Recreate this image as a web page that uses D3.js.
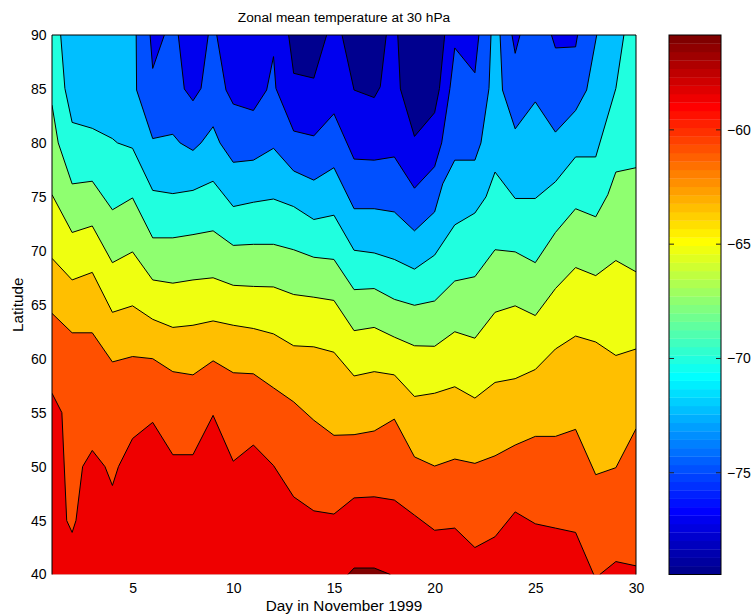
<!DOCTYPE html>
<html>
<head>
<meta charset="utf-8">
<script src="https://cdn.jsdelivr.net/npm/d3@7"></script>
<style>
body { margin: 0; background: #fff; }
svg { display: block; font-family: "Liberation Sans", Arial, sans-serif; }
</style>
</head>
<body>
<div id="chart"></div>
<script>
var dayTicks = [5, 10, 15, 20, 25, 30];
var latTicks = [40, 45, 50, 55, 60, 65, 70, 75, 80, 85, 90];
var cbTicks = [-75, -70, -65, -60];
var tempRange = [-79.45, -55.85];
var levels = [-77.09, -74.85, -72.25, -70.06, -67.46, -65.29, -63.4, -60.81, -58.61, -56.09];

// where each contour level lies, as [day, latitude]; colder air is poleward of the line
var lvl1 = [[1,90],[12.75,90],[13,86.45],[14,86.0],[14.64,90],[15.4,90],[16,84.9],[17,84.2],[17.3,85.2],[17.6,90],
  [18.17,90],[18.3,85],[19,80.6],[20,82.8],[20.24,85.05],[20.5,90],[30,90]];
var lvl2 = [[1,90],[5.87,90],[6,86.9],[6.58,90],[7.27,90],[7.57,85],[8,83.9],[8.4,85.05],[8.76,90],[9.18,90],
  [9.64,84.9],[10,83.6],[11,83.0],[11.66,84.9],[12,88.0],[12.12,85.05],[13,81.1],[14,80.65],[15,82.7],[16,78.5],
  [17,78.4],[18,78.7],[19,75.8],[20,77.8],[20.35,80],[20.76,85.05],[21,88.8],[22,86.5],[22.2,90],[23.84,90],
  [24,88.3],[24.24,90],[25.8,90],[26,88.8],[27,88.9],[27.1,90],[30,90]];
var lvl3 = [[1,90],[5.18,90],[5.2,84.9],[6,80.4],[7,80.8],[7.36,80],[8,79.3],[8.4,80],[9,81.5],[9.34,80],[10,78.2],
  [11,78.4],[12,79.5],[13,77.4],[14,76.55],[15,77.7],[16,73.9],[17,73.9],[18,73.6],[19,71.85],[20,73.6],[20.4,76.2],
  [21,78.4],[22,78.4],[22.3,80],[22.7,85.05],[22.8,90],[23.25,90],[23.37,84.9],[24,81.3],[25,83.8],[26,81.0],
  [27,83.0],[27.55,84.9],[28.05,90],[30,90]];
var lvl4 = [[1,90],[1.43,90],[1.64,85.05],[2,81.9],[3,81.35],[4,80.4],[4.25,80],[5,79.5],[6,75.6],[7,75.3],[8,75.6],
  [9,76.45],[10,74.1],[11,74.5],[12,74.8],[13,74.1],[14,72.9],[15,73.3],[16,70.05],[17,69.8],[18,69.2],[19,68.3],
  [20,69.6],[21,72.4],[22,73.5],[22.55,75],[23,77.3],[24,74.85],[25,74.85],[26,76.4],[27,78.7],[28,78.7],[29,85.05],
  [29.4,90],[30,90]];
var lvl5 = [[1,83.5],[1.31,80],[2,76.2],[3,76.45],[4,73.8],[5,74.9],[6,71.2],[7,71.2],[8,71.5],[9,71.85],[10,70.5],
  [11,70.6],[12,70.6],[13,70.1],[14,69.4],[15,69.2],[16,66.4],[17,66.5],[18,65.5],[19,64.95],[20,65.35],[21,67.2],
  [22,67.6],[23,70.1],[24,69.9],[25,68.9],[26,71.7],[27,73.9],[28,73.15],[28.6,75.2],[29,77.3],[30,77.7]];
var lvl6 = [[1,75.2],[2,71.7],[3,72.3],[4,68.9],[5,69.9],[6,67.3],[7,67.0],[8,67.3],[9,67.5],[10,66.8],[11,66.7],
  [12,66.65],[13,65.95],[14,65.7],[15,65.4],[16,62.6],[17,62.9],[18,62.0],[19,61.2],[20,61.15],[21,62.5],[22,61.9],
  [23,64.3],[24,64.9],[25,64.0],[26,66.5],[27,68.45],[28,67.7],[29,69.1],[30,68.05]];
var lvl7 = [[1,69.3],[2,67.3],[3,68.0],[4,64.3],[5,64.9],[6,63.65],[7,62.9],[8,63.1],[9,63.5],[10,63.1],[11,62.8],
  [12,62.3],[13,61.2],[14,61.1],[15,60.6],[16,58.4],[17,58.8],[18,58.5],[19,56.5],[20,56.8],[21,57.4],[22,56.35],
  [23,57.8],[24,58.15],[25,59.0],[26,60.9],[27,62.1],[28,61.55],[29,60.3],[30,60.9]];
var lvl8 = [[1,64.2],[2,62.4],[3,62.4],[4,59.7],[5,60.2],[6,60.0],[7,58.8],[8,58.5],[9,59.8],[10,58.7],[11,58.6],
  [12,57.3],[13,56.0],[14,54.3],[15,52.9],[16,52.96],[17,53.3],[18,54.4],[19,50.9],[20,50.05],[21,50.7],[22,50.3],
  [23,51.0],[24,52.0],[25,52.8],[26,52.8],[27,53.45],[28,49.25],[29,49.9],[30,53.5]];
var lvl9 = [[1,56.8],[1.49,55],[1.73,45],[2,43.9],[2.19,45],[2.52,50],[3,51.5],[3.63,50],[4,48.25],[4.3,50],[5,52.6],
  [6,54.1],[7,51.1],[8,51.1],[9,54.75],[10,50.5],[11,52.0],[12,50.1],[13,47.2],[14,45.9],[15,45.6],[16,47.1],
  [17,47.2],[18,46.9],[19,45.5],[20,44.1],[21,44.3],[22,42.5],[23,43.5],[24,45.8],[25,44.7],[26,44.3],[27,43.9],
  [27.9,40],[28.2,40],[29,41.2],[30,40.8]];
var lvl10 = [[1,40],[15.7,40],[16,40.6],[17,40.6],[17.8,40],[30,40]];

var contourLines = [lvl1, lvl2, lvl3, lvl4, lvl5, lvl6, lvl7, lvl8, lvl9, lvl10];

var W = 756, H = 615;
var plot = { left: 52, right: 636, top: 35, bottom: 574.5 };
var bar = { left: 669, right: 721 };

// matlab jet(64)
function jet64() {
	var n = 16, u = [], cols = [];
	for (var i = 1; i <= n; i++) u.push(i / n);
	for (i = 0; i < n - 1; i++) u.push(1);
	for (i = n; i >= 1; i--) u.push(i / n);
	function pick(k) { return (k >= 1 && k <= u.length) ? u[k - 1] : 0; }
	for (var j = 1; j <= 64; j++) {
		cols.push(d3.rgb(pick(j - 24) * 255, pick(j - 8) * 255, pick(j + 8) * 255).toString());
	}
	return cols;
}
var jet = jet64();

// scaled colour lookup, like caxis: fix(v*64)+1, clamped
function bandColor(k) {
	var v = k == 0 ? 0 : (levels[k - 1] - tempRange[0]) / (tempRange[1] - tempRange[0]);
	return jet[Math.min(63, Math.floor(v * 64))];
}

var xScale = d3.scaleLinear().domain([1, 30]).range([plot.left, plot.right]);
var yScale = d3.scaleLinear().domain([40, 90]).range([plot.bottom, plot.top]);
var cScale = d3.scaleLinear().domain(tempRange).range([plot.bottom, plot.top]);

var svg = d3.select("#chart").append("svg")
	.attr("width", W)
	.attr("height", H);

svg.append("clipPath").attr("id", "clip")
	.append("rect")
	.attr("x", plot.left).attr("y", plot.top)
	.attr("width", plot.right - plot.left).attr("height", plot.bottom - plot.top);

var g = svg.append("g").attr("clip-path", "url(#clip)");

// warmest band underneath, then each colder band painted poleward of its line
g.append("rect")
	.attr("x", xScale(1)).attr("y", yScale(90))
	.attr("width", xScale(30) - xScale(1)).attr("height", yScale(40) - yScale(90))
	.attr("fill", bandColor(10));

var area = d3.area()
	.x(function(d) { return xScale(d[0]); })
	.y0(yScale(90))
	.y1(function(d) { return yScale(d[1]); });

for (var k = 10; k >= 1; k--) {
	g.append("path")
		.attr("d", area(contourLines[k - 1]))
		.attr("fill", bandColor(k - 1));
}

// split a contour so it is not traced along the top / bottom frame
function pieces(pts) {
	var out = [], cur = [pts[0]];
	for (var i = 1; i < pts.length; i++) {
		var a = pts[i - 1], b = pts[i];
		var onEdge = (a[1] >= 90 && b[1] >= 90) || (a[1] <= 40 && b[1] <= 40);
		if (onEdge) {
			if (cur.length > 1) out.push(cur);
			cur = [b];
		} else {
			cur.push(b);
		}
	}
	if (cur.length > 1) out.push(cur);
	return out;
}

var line = d3.line()
	.x(function(d) { return xScale(d[0]); })
	.y(function(d) { return yScale(d[1]); });

contourLines.forEach(function(c) {
	pieces(c).forEach(function(p) {
		g.append("path")
			.attr("d", line(p))
			.attr("fill", "none")
			.attr("stroke", "#000")
			.attr("stroke-width", 1)
			.attr("stroke-linejoin", "round");
	});
});

// frame (bottom edge is hidden under the patches in the original)
svg.append("path")
	.attr("d", "M" + plot.left + "," + plot.bottom + "V" + plot.top + "H" + plot.right + "V" + plot.bottom)
	.attr("fill", "none")
	.attr("stroke", "#000")
	.attr("stroke-width", 1);

// axes labels
var xAxis = svg.append("g")
	.attr("transform", "translate(0," + plot.bottom + ")")
	.call(d3.axisBottom(xScale).tickValues(dayTicks).tickSize(0).tickPadding(9).tickFormat(d3.format("d")));
var yAxis = svg.append("g")
	.attr("transform", "translate(" + plot.left + ",0)")
	.call(d3.axisLeft(yScale).tickValues(latTicks).tickSize(0).tickPadding(5.5).tickFormat(d3.format("d")));
[xAxis, yAxis].forEach(function(a) {
	a.select(".domain").remove();
	a.selectAll("text").attr("font-size", 14).attr("fill", "#000").attr("font-family", null);
});

svg.append("text")
	.attr("x", (plot.left + plot.right) / 2)
	.attr("y", 22)
	.attr("text-anchor", "middle")
	.attr("font-size", 13.7)
	.text("Zonal mean temperature at 30 hPa");

svg.append("text")
	.attr("x", (plot.left + plot.right) / 2)
	.attr("y", 611)
	.attr("text-anchor", "middle")
	.attr("font-size", 15.3)
	.text("Day in November 1999");

svg.append("text")
	.attr("transform", "translate(23," + ((plot.top + plot.bottom) / 2) + ") rotate(-90)")
	.attr("text-anchor", "middle")
	.attr("font-size", 15.3)
	.text("Latitude");

// colorbar
var step = (tempRange[1] - tempRange[0]) / 64;
svg.append("g").selectAll("rect")
	.data(jet)
	.enter()
	.append("rect")
	.attr("x", bar.left)
	.attr("width", bar.right - bar.left)
	.attr("y", function(d, i) { return cScale(tempRange[0] + (i + 1) * step); })
	.attr("height", function(d, i) { return cScale(tempRange[0] + i * step) - cScale(tempRange[0] + (i + 1) * step) + 0.3; })
	.attr("fill", function(d) { return d; });

svg.append("rect")
	.attr("x", bar.left).attr("y", plot.top)
	.attr("width", bar.right - bar.left).attr("height", plot.bottom - plot.top)
	.attr("fill", "none").attr("stroke", "#000").attr("stroke-width", 1);

var cTicks = svg.append("g").selectAll("g")
	.data(cbTicks)
	.enter()
	.append("g")
	.attr("transform", function(d) { return "translate(0," + cScale(d) + ")"; });
cTicks.append("line").attr("x1", bar.left).attr("x2", bar.left + 5).attr("stroke", "#222");
cTicks.append("line").attr("x1", bar.right - 5).attr("x2", bar.right).attr("stroke", "#222");

var cAxis = svg.append("g")
	.attr("transform", "translate(" + bar.right + ",0)")
	.call(d3.axisRight(cScale).tickValues(cbTicks).tickSize(0).tickPadding(6).tickFormat(d3.format("d")));
cAxis.select(".domain").remove();
cAxis.selectAll("text").attr("font-size", 14).attr("fill", "#000").attr("font-family", null);
</script>
</body>
</html>
